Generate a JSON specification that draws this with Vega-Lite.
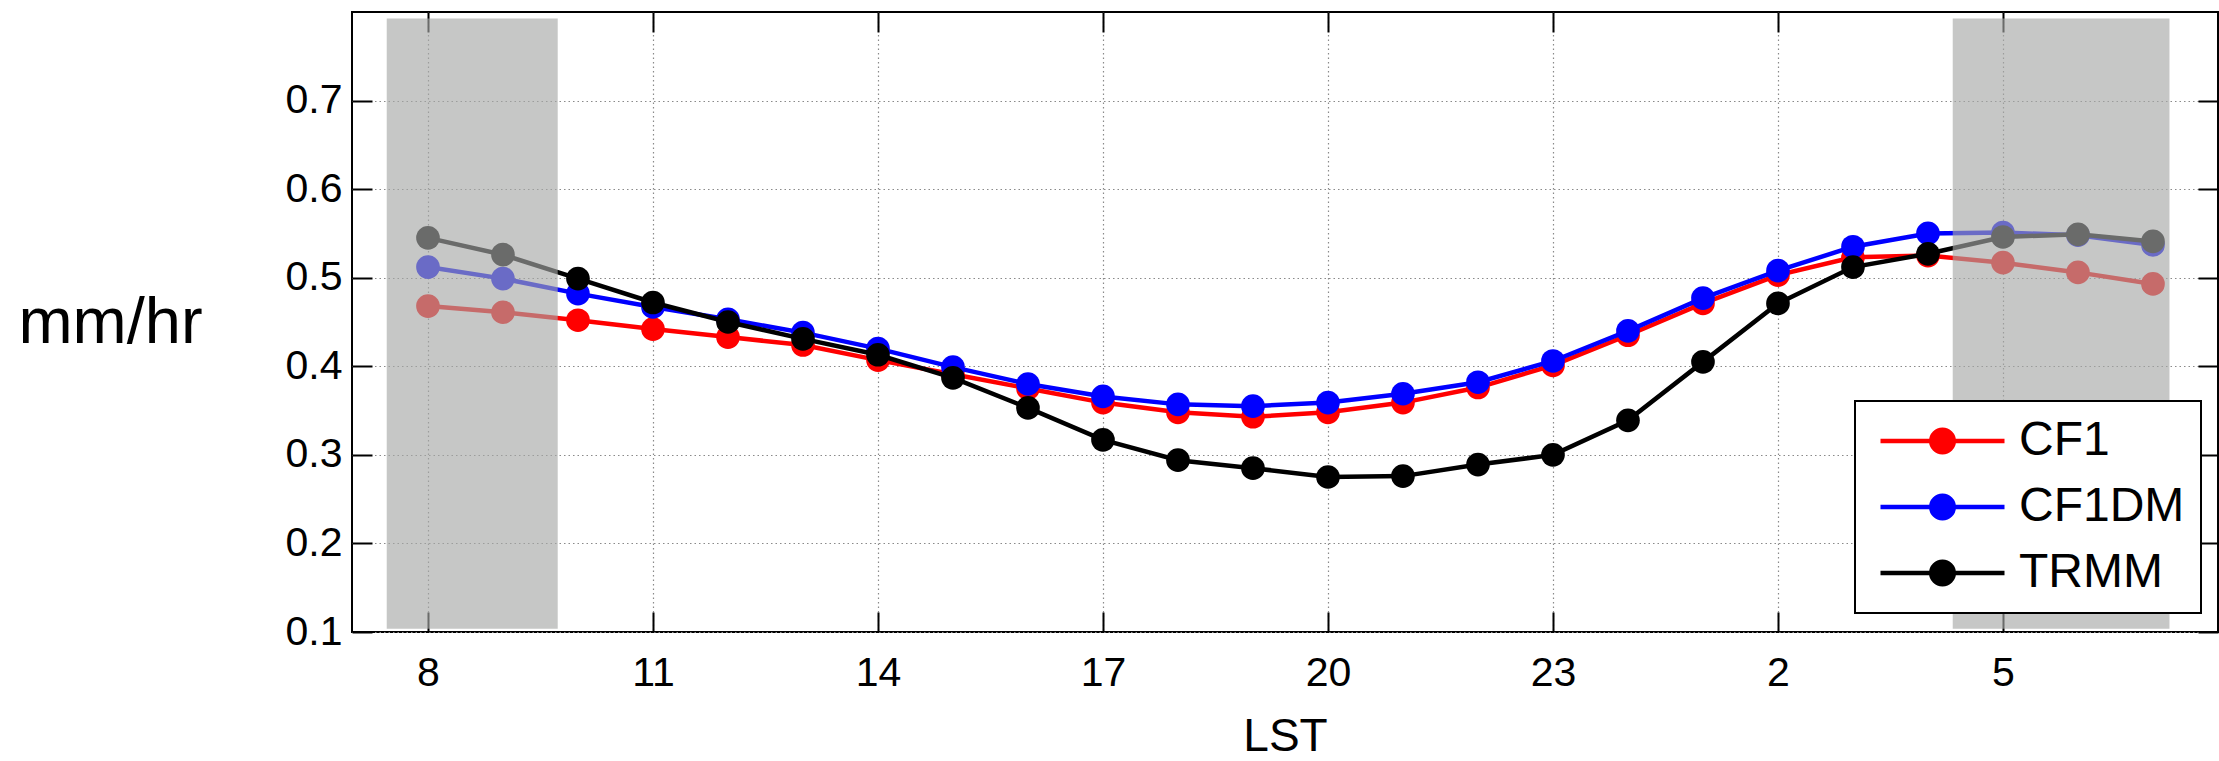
{
  "$schema": "https://vega.github.io/schema/vega-lite/v6.json",
  "autosize": "none",
  "padding": {"left": 352, "top": 12, "right": 1, "bottom": 129},
  "width": 1866,
  "height": 620,
  "background": "white",
  "config": {
    "view": {"stroke": "black", "strokeWidth": 2},
    "font": "Liberation Sans",
    "axis": {
      "domain": false,
      "labelFont": "Liberation Sans",
      "labelFontSize": 41,
      "labelColor": "black",
      "tickColor": "black",
      "tickWidth": 2,
      "tickSize": -20,
      "gridColor": "#8a8a8a",
      "gridDash": [1.5, 3],
      "gridWidth": 1.2,
      "titleFont": "Liberation Sans",
      "titleColor": "black",
      "titleFontWeight": "normal"
    }
  },
  "datasets": {
    "rain": [
      {"h": 8, "s": "CF1", "v": 0.468}, {"h": 9, "s": "CF1", "v": 0.461}, {"h": 10, "s": "CF1", "v": 0.452}, {"h": 11, "s": "CF1", "v": 0.442},
      {"h": 12, "s": "CF1", "v": 0.433}, {"h": 13, "s": "CF1", "v": 0.424}, {"h": 14, "s": "CF1", "v": 0.407}, {"h": 15, "s": "CF1", "v": 0.391},
      {"h": 16, "s": "CF1", "v": 0.375}, {"h": 17, "s": "CF1", "v": 0.359}, {"h": 18, "s": "CF1", "v": 0.348}, {"h": 19, "s": "CF1", "v": 0.343},
      {"h": 20, "s": "CF1", "v": 0.348}, {"h": 21, "s": "CF1", "v": 0.359}, {"h": 22, "s": "CF1", "v": 0.376}, {"h": 23, "s": "CF1", "v": 0.401},
      {"h": 24, "s": "CF1", "v": 0.435}, {"h": 25, "s": "CF1", "v": 0.471}, {"h": 26, "s": "CF1", "v": 0.503}, {"h": 27, "s": "CF1", "v": 0.523},
      {"h": 28, "s": "CF1", "v": 0.525}, {"h": 29, "s": "CF1", "v": 0.517}, {"h": 30, "s": "CF1", "v": 0.506}, {"h": 31, "s": "CF1", "v": 0.493},
      {"h": 8, "s": "CF1DM", "v": 0.512}, {"h": 9, "s": "CF1DM", "v": 0.499}, {"h": 10, "s": "CF1DM", "v": 0.482}, {"h": 11, "s": "CF1DM", "v": 0.467},
      {"h": 12, "s": "CF1DM", "v": 0.453}, {"h": 13, "s": "CF1DM", "v": 0.438}, {"h": 14, "s": "CF1DM", "v": 0.420}, {"h": 15, "s": "CF1DM", "v": 0.399},
      {"h": 16, "s": "CF1DM", "v": 0.380}, {"h": 17, "s": "CF1DM", "v": 0.366}, {"h": 18, "s": "CF1DM", "v": 0.357}, {"h": 19, "s": "CF1DM", "v": 0.355},
      {"h": 20, "s": "CF1DM", "v": 0.359}, {"h": 21, "s": "CF1DM", "v": 0.369}, {"h": 22, "s": "CF1DM", "v": 0.382}, {"h": 23, "s": "CF1DM", "v": 0.406},
      {"h": 24, "s": "CF1DM", "v": 0.440}, {"h": 25, "s": "CF1DM", "v": 0.477}, {"h": 26, "s": "CF1DM", "v": 0.508}, {"h": 27, "s": "CF1DM", "v": 0.535},
      {"h": 28, "s": "CF1DM", "v": 0.550}, {"h": 29, "s": "CF1DM", "v": 0.551}, {"h": 30, "s": "CF1DM", "v": 0.548}, {"h": 31, "s": "CF1DM", "v": 0.537},
      {"h": 8, "s": "TRMM", "v": 0.545}, {"h": 9, "s": "TRMM", "v": 0.526}, {"h": 10, "s": "TRMM", "v": 0.499}, {"h": 11, "s": "TRMM", "v": 0.472},
      {"h": 12, "s": "TRMM", "v": 0.450}, {"h": 13, "s": "TRMM", "v": 0.431}, {"h": 14, "s": "TRMM", "v": 0.413}, {"h": 15, "s": "TRMM", "v": 0.387},
      {"h": 16, "s": "TRMM", "v": 0.353}, {"h": 17, "s": "TRMM", "v": 0.317}, {"h": 18, "s": "TRMM", "v": 0.294}, {"h": 19, "s": "TRMM", "v": 0.285},
      {"h": 20, "s": "TRMM", "v": 0.275}, {"h": 21, "s": "TRMM", "v": 0.276}, {"h": 22, "s": "TRMM", "v": 0.289}, {"h": 23, "s": "TRMM", "v": 0.300},
      {"h": 24, "s": "TRMM", "v": 0.339}, {"h": 25, "s": "TRMM", "v": 0.405}, {"h": 26, "s": "TRMM", "v": 0.471}, {"h": 27, "s": "TRMM", "v": 0.512},
      {"h": 28, "s": "TRMM", "v": 0.527}, {"h": 29, "s": "TRMM", "v": 0.546}, {"h": 30, "s": "TRMM", "v": 0.549}, {"h": 31, "s": "TRMM", "v": 0.541}
    ],
    "shade": [
      {"x1": 7.45, "x2": 9.73, "y1": 0.1038, "y2": 0.7926},
      {"x1": 28.33, "x2": 31.22, "y1": 0.1038, "y2": 0.7926}
    ]
  },
  "layer": [
    {
      "data": {"name": "rain"},
      "encoding": {
        "x": {"field": "h", "type": "quantitative",
          "scale": {"domain": [6.987, 31.867], "nice": false, "zero": false},
          "axis": {"orient": "bottom", "values": [8, 11, 14, 17, 20, 23, 26, 29], "labelExpr": "datum.value % 24",
            "labelFlush": false, "labelOverlap": false, "labelBaseline": "alphabetic", "labelPadding": 73,
            "grid": true, "title": "LST", "titleFontSize": 46, "titleBaseline": "alphabetic", "titleY": 118}},
        "y": {"field": "v", "type": "quantitative",
          "scale": {"domain": [0.1, 0.8], "nice": false, "zero": false},
          "axis": {"orient": "left", "values": [0.1, 0.2, 0.3, 0.4, 0.5, 0.6, 0.7], "format": ".1f",
            "labelPadding": 30, "labelBaseline": "middle", "grid": true,
            "title": "mm/hr", "titleFontSize": 65, "titleAngle": 0, "titleAlign": "center", "titleBaseline": "alphabetic",
            "titleX": -242, "titleY": 330}},
        "color": {"field": "s", "type": "nominal",
          "scale": {"domain": ["CF1", "CF1DM", "TRMM"], "range": ["#ff0000", "#0000ff", "#000000"]},
          "legend": {
            "orient": "none", "legendX": 1503, "legendY": 389, "title": null,
            "fillColor": "white", "strokeColor": "black", "padding": 16,
            "labelFont": "Liberation Sans", "labelFontSize": 48, "labelColor": "black", "labelOffset": 100, "labelLimit": 500,
            "symbolType": "M-0.725,0H5.475M1.8125,0A0.5625,0.5625,0,1,1,2.9375,0A0.5625,0.5625,0,1,1,1.8125,0Z",
            "symbolSize": 1600, "symbolStrokeWidth": 4.5, "rowPadding": 18,
            "encode": {
              "symbols": {"update": {"fill": {"scale": "color", "field": "value"}, "stroke": {"scale": "color", "field": "value"}, "opacity": {"value": 1}}},
              "legend": {"update": {"strokeWidth": {"value": 2}}}
            }
          }}
      },
      "layer": [
        {"transform": [{"filter": "datum.s === 'CF1'"}], "mark": {"type": "line", "strokeWidth": 4.5}},
        {"transform": [{"filter": "datum.s === 'CF1'"}], "mark": {"type": "point", "filled": true, "size": 560, "opacity": 1}},
        {"transform": [{"filter": "datum.s === 'CF1DM'"}], "mark": {"type": "line", "strokeWidth": 4.5}},
        {"transform": [{"filter": "datum.s === 'CF1DM'"}], "mark": {"type": "point", "filled": true, "size": 560, "opacity": 1}},
        {"transform": [{"filter": "datum.s === 'TRMM'"}], "mark": {"type": "line", "strokeWidth": 4.5}},
        {"transform": [{"filter": "datum.s === 'TRMM'"}], "mark": {"type": "point", "filled": true, "size": 560, "opacity": 1}}
      ]
    },
    {
      "data": {"name": "shade"},
      "mark": {"type": "rect", "color": "#a6a7a6", "opacity": 0.64},
      "encoding": {
        "x": {"field": "x1", "type": "quantitative",
          "scale": {"domain": [6.987, 31.867], "nice": false, "zero": false},
          "axis": {"orient": "top", "values": [8, 11, 14, 17, 20, 23, 26, 29], "labels": false, "grid": false, "title": null}},
        "x2": {"field": "x2"},
        "y": {"field": "y1", "type": "quantitative",
          "scale": {"domain": [0.1, 0.8], "nice": false, "zero": false},
          "axis": {"orient": "right", "values": [0.1, 0.2, 0.3, 0.4, 0.5, 0.6, 0.7], "labels": false, "grid": false, "title": null}},
        "y2": {"field": "y2"}
      }
    }
  ],
  "resolve": {"axis": {"x": "independent", "y": "independent"}}
}
